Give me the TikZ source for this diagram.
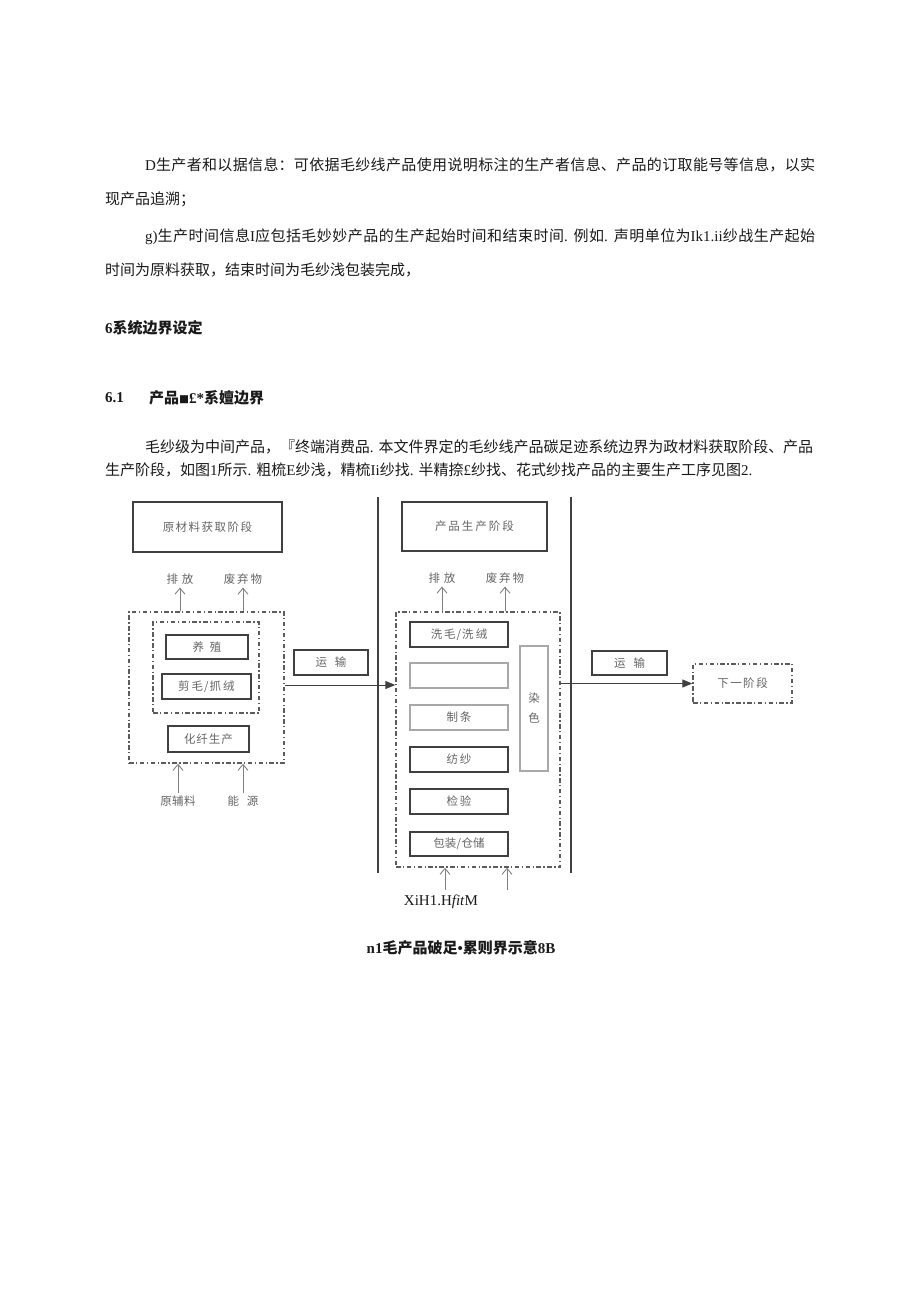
\documentclass[tikz,border=0pt]{standalone}
\usepackage{fontspec}
\setmainfont{Liberation Serif}
\newfontfamily\cjk{Noto Sans CJK SC}
\usetikzlibrary{arrows.meta,calc}
\XeTeXlinebreaklocale "zh"
\XeTeXlinebreakskip=0pt plus 3pt minus 0.3pt
\definecolor{ink}{HTML}{1A1A1A}
\definecolor{dgray}{HTML}{404040}
\definecolor{lgray}{HTML}{A8A8A8}
\definecolor{tgray}{HTML}{656565}
\definecolor{dashc}{HTML}{5C5C5C}
\definecolor{agray}{HTML}{808080}
\newcommand\jline[2]{\parbox{#1}{\noindent\tolerance=9999\parfillskip=0pt\relax #2}}
\tikzset{
  body/.style={font=\fontsize{15}{15}\selectfont, inner sep=0pt, anchor=west, text=ink},
  dfont/.style={font=\cjk\fontsize{11.5}{11.5}\selectfont, text=tgray},
  box/.style={dfont, draw=dgray, line width=1.6pt, inner sep=0pt},
  gbox/.style={box, draw=lgray, line width=1.2pt},
  dbox/.style={draw=dashc, line width=1.4pt, dash pattern=on 4.5pt off 2.5pt on 1.3pt off 2.5pt, inner sep=0pt},
  lbl/.style={dfont, inner sep=3pt},
  up/.style={draw=agray, line width=0.9pt, -{Straight Barb[length=6pt,width=10pt]}},
  harrow/.style={draw=dgray, line width=1pt, -{Triangle[length=10pt,width=8pt]}},
  vline/.style={draw=dgray, line width=1.8pt}
}
\begin{document}
\begin{tikzpicture}[x=1pt,y=-1pt]
\fill[white] (0,0) rectangle (920,1301);
\useasboundingbox (0,0) rectangle (920,1301);

% ---- body text ----
\node[body] (p1) at (145,165) {\jline{670pt}{D{\cjk 生产者和以据信息：可依据毛纱线产品使用说明标注的生产者信息、产品的订取能号等信息，以实}}};
\node[body] (p2) at (105,199) {\cjk 现产品追溯；};
\node[body] (p3) at (145,237) {\jline{670pt}{g){\cjk 生产时间信息}I{\cjk 应包括毛妙妙产品的生产起始时间和结束时间}. {\cjk 例如}. {\cjk 声明单位为}Ik1.ii{\cjk 纱战生产起始}}};
\node[body] (p4) at (105,270) {\cjk 时间为原料获取，结束时间为毛纱浅包装完成，};
\node[body] (h1) at (105,328) {\bfseries 6{\cjk 系统边界设定}};
\node[body] (h2) at (105,398) {\bfseries 6.1};
\node[body] (h2b) at (149,398) {\bfseries{\cjk 产品{\fontsize{10}{10}\selectfont ■}}£*{\cjk 系嬗边界}};
\node[body] (q1) at (145,447) {\jline{668pt}{{\cjk 毛纱级为中间产品，『终端消费品}. {\cjk 本文件界定的毛纱线产品碳足迹系统边界为政材料获取阶段、产品}}};
\node[body] (q2) at (105,470) {{\cjk 生产阶段，如图}1{\cjk 所示}. {\cjk 粗梳}E{\cjk 纱浅，精梳}Ii{\cjk 纱找}. {\cjk 半精捺}£{\cjk 纱找、花式纱找产品的主要生产工序见图}2.};

% ---- diagram ----
\coordinate (v1t) at (378,497); \coordinate (v1b) at (378,873);
\coordinate (v2t) at (571,497); \coordinate (v2b) at (571,873);
\draw[vline] (v1t) -- (v1b);
\draw[vline] (v2t) -- (v2b);

\node[box, minimum width=149pt, minimum height=50pt] (s1) at (207.5,527) {原\hspace{1.5pt}材\hspace{1.5pt}料\hspace{1.5pt}获\hspace{1.5pt}取\hspace{1.5pt}阶\hspace{1.5pt}段};
\node[box, minimum width=145pt, minimum height=49pt] (s2) at (474.5,526.5) {产\hspace{2pt}品\hspace{2pt}生\hspace{2pt}产\hspace{2pt}阶\hspace{2pt}段};

\node[dbox, minimum width=155pt, minimum height=151pt] (lo) at (206.5,687.5) {};
\node[dbox, minimum width=106pt, minimum height=91pt] (li) at (206,667.5) {};
\node[box, minimum width=82pt, minimum height=24pt] (yz) at (207,647) {养\hspace{6pt}殖};
\node[box, minimum width=89pt, minimum height=25pt] (jm) at (206.5,686.5) {剪\hspace{2pt}毛\hspace{1pt}/\hspace{1pt}抓\hspace{2pt}绒};
\node[box, minimum width=81pt, minimum height=26pt] (hx) at (208.5,739) {化\hspace{1pt}纤\hspace{1pt}生\hspace{1pt}产};

\node[lbl] (pf1) at (180,579) {排\hspace{4pt}放};
\node[lbl] (fq1) at (243,579) {废\hspace{2pt}弃\hspace{2pt}物};
\node[lbl] (yf) at (178,801) {原\hspace{0.5pt}辅\hspace{0.5pt}料};
\node[lbl] (ny) at (243,801) {能\hspace{8pt}源};
\draw[up] (lo.north -| pf1) -- (pf1.south);
\draw[up] (lo.north -| fq1) -- (fq1.south);
\draw[up] (yf.north) -- (yf.north |- lo.south);
\draw[up] (ny.north) -- (ny.north |- lo.south);

\node[box, minimum width=74pt, minimum height=25pt] (ys1) at (331,662.5) {运\hspace{8pt}输};
\coordinate (a1) at (285,685);

\node[dbox, minimum width=164pt, minimum height=255pt] (ro) at (478,739.5) {};
\node[box, minimum width=98pt, minimum height=25pt] (xm) at (459,634.5) {洗\hspace{2pt}毛\hspace{1pt}/\hspace{1pt}洗\hspace{2pt}绒};
\node[gbox, minimum width=98pt, minimum height=25pt] (em) at (459,675.5) {};
\node[gbox, minimum width=98pt, minimum height=25pt] (zt) at (459,717.5) {制\hspace{2pt}条};
\node[box, minimum width=98pt, minimum height=25pt] (fs) at (459,759.5) {纺\hspace{2pt}纱};
\node[box, minimum width=98pt, minimum height=25pt] (jy) at (459,801.5) {检\hspace{2pt}验};
\node[box, minimum width=98pt, minimum height=24pt] (bz) at (459,844) {包装\hspace{0.5pt}/\hspace{0.5pt}仓储};
\node[gbox, minimum width=28pt, minimum height=125pt, align=center, font=\cjk\fontsize{11.5}{20}\selectfont] (rs) at (534,708.5) {染\\色};

\node[lbl] (pf2) at (442,578) {排\hspace{4pt}放};
\node[lbl] (fq2) at (505,578) {废\hspace{2pt}弃\hspace{2pt}物};
\draw[up] (ro.north -| pf2) -- (pf2.south);
\draw[up] (ro.north -| fq2) -- (fq2.south);
\coordinate (b1) at (445,890); \coordinate (b2) at (507,890);
\draw[up] (b1) -- (b1 |- ro.south);
\draw[up] (b2) -- (b2 |- ro.south);

\draw[harrow] (a1) -- (a1 -| ro.west);

\node[box, minimum width=75pt, minimum height=24pt] (ys2) at (629.5,663) {运\hspace{8pt}输};
\node[dbox, dfont, minimum width=99pt, minimum height=39pt] (nx) at (742.5,683.5) {下\hspace{1.5pt}一\hspace{1.5pt}阶\hspace{1.5pt}段};
\draw[harrow] (ro.east |- nx.west) -- (nx.west);

\node[body, anchor=center] (xi) at (441,902) {XiH1.H\textit{fit}M};
\node[body, anchor=center] (cap) at (461,948) {\bfseries n1{\cjk 毛产品破足}•{\cjk 累则界示意}8B};
\end{tikzpicture}
\end{document}
